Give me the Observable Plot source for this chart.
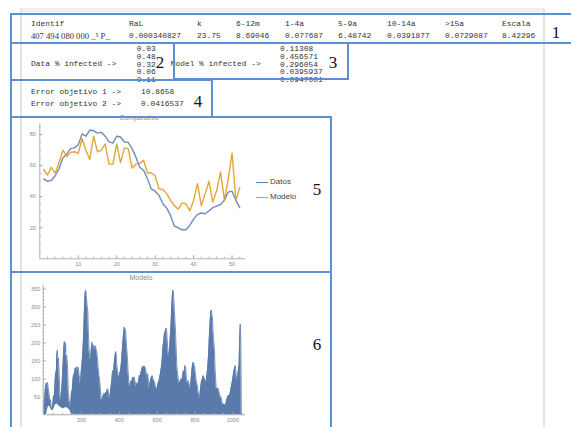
<!DOCTYPE html>
<html><head><meta charset="utf-8">
<script src="https://cdn.jsdelivr.net/npm/d3@7"></script>
<script src="https://cdn.jsdelivr.net/npm/@observablehq/plot@0.6"></script>
<style>
body{margin:0;background:#fff;}
#page{position:relative;width:571px;height:427px;overflow:hidden;background:#fff;}
.box{position:absolute;border:2px solid #5d8fd4;box-sizing:border-box;}
.t{position:absolute;white-space:pre;font-family:"Liberation Mono","DejaVu Sans Mono",monospace;font-size:7.9px;line-height:8px;color:#333;transform:translateY(-50%);}
.num{position:absolute;font-family:"Liberation Serif",serif;font-size:17px;line-height:17px;color:#111;transform:translate(-50%,-50%);}
.ttl{position:absolute;font-family:"Liberation Sans",Arial,sans-serif;font-size:7px;line-height:7px;color:#8a8a8a;transform:translate(-50%,-50%);white-space:pre;}
.leg{position:absolute;font-family:"Liberation Sans",Arial,sans-serif;font-size:8px;line-height:8px;color:#444;transform:translateY(-50%);}
.sw{position:absolute;height:1.6px;width:12px;}
.gray{position:absolute;background:#e2e2e2;}
svg.plot{position:absolute;}
</style></head>
<body><div id="page"></div>
<script>
// ---- data ----
const encabezados = ["Identif","RaL","k","6-12m","1-4a","5-9a","10-14a",">15a","Escala"];
const valores = ["407 494 080 000 _\u2075 P_","0.000340827","23.75","8.69046","0.077687","6.48742","0.0391877","0.0729087","8.42296"];
const etiquetaDatos = "Data % infected ->";
const datosInfectados = ["0.03","0.48","0.32","0.06","0.11"];
const etiquetaModelo = "Model % infected ->";
const modeloInfectados = ["0.11308","0.456571","0.296054","0.0395937","0.0947001"];
const errores = ["Error objetivo 1 ->","Error objetivo 2 ->"];
const erroresValores = ["10.8658","0.0416537"];
const numeros = ["1","2","3","4","5","6"];

const semanas = [1,2,3,4,5,6,7,8,9,10,11,12,13,14,15,16,17,18,19,20,21,22,23,24,25,26,27,28,29,30,31,32,33,34,35,36,37,38,39,40,41,42,43,44,45,46,47,48,49,50,51,52];
const datos = [51.5,50,50.5,53.5,58,65,67.5,71,71.5,73.5, 80.5,79,83,82.5,81,81.5,79,75.3,74.5,79, 78.5,75.3,75,71,65.5,59,57,51.6,45,43.6, 41,35.5,32.7,28,21,20,18.7,18.7,21.5,25.6, 28.6,29.5,29,31,33,34,35,37.6,43,43.6, 37.6,33];
const modelo = [57.5,54,59,55,62,70,66,68.5,69,68, 77.5,70,64,79,69,70,74,61,61,74, 62,71.5,71,58.5,61,61.5,63.5,55.3,55.3,53.5, 45,44.7,42,37.6,34.4,32,36,35.5,30.8,37.6, 48.4,34.2,42,50,36.6,44,56,38,51,68, 37.6,46];
const series = ["Datos","Modelo"];
const colores = ["#5E81B5","#E19C24"];
const ticksX5 = [10,20,30,40,50];
const menoresX5 = [2,4,6,8,12,14,16,18,22,24,26,28,32,34,36,38,42,44,46,48,52];
const ticksY5 = [20,40,60,80];
const menoresY5 = [5,10,15,25,30,35,45,50,55,65,70,75,85];

const modeloPuntos = [[0,30],[4,45],[8,70],[12,88],[16,84],[20,90],[24,72],[28,60],[32,36],[36,42],[40,20],[44,17],[48,28],[52,55],[56,48],[60,95],[63,120],[66,110],[69,165],[72,180],[75,150],[78,158],[81,120],[84,70],[87,45],[90,38],[93,60],[97,86],[100,120],[103,150],[106,185],[109,204],[112,175],[115,200],[118,160],[121,165],[124,150],[127,120],[130,60],[133,45],[137,30],[141,21],[144,40],[147,67],[150,60],[154,95],[158,114],[162,105],[166,130],[170,128],[174,134],[178,120],[182,132],[186,115],[190,100],[194,85],[198,120],[202,141],[206,170],[209,200],[212,240],[215,290],[218,335],[221,347],[224,340],[227,320],[230,300],[233,290],[236,230],[239,188],[243,160],[247,151],[251,180],[255,202],[258,185],[261,195],[264,190],[268,180],[272,192],[276,185],[280,175],[284,160],[288,130],[292,110],[296,95],[300,70],[304,45],[308,35],[312,50],[316,54],[320,60],[324,55],[328,63],[332,60],[336,72],[340,70],[344,55],[348,44],[352,60],[356,77],[360,95],[364,123],[368,110],[372,140],[376,160],[380,176],[383,170],[386,140],[390,123],[394,110],[398,100],[402,115],[406,123],[410,140],[414,170],[418,200],[422,225],[426,244],[430,240],[434,225],[438,190],[442,165],[446,120],[450,95],[454,77],[458,80],[462,95],[466,90],[470,105],[474,100],[478,105],[482,95],[486,85],[490,77],[494,90],[498,81],[502,95],[506,110],[510,105],[514,118],[518,125],[522,133],[526,135],[530,132],[534,135],[538,128],[542,118],[546,100],[550,114],[554,90],[558,72],[562,90],[566,100],[570,105],[574,109],[578,100],[582,95],[586,91],[590,80],[594,75],[598,68],[602,80],[606,90],[610,95],[614,105],[618,120],[622,132],[626,150],[630,188],[634,200],[638,225],[642,230],[646,242],[650,235],[654,200],[658,170],[661,165],[665,180],[669,216],[673,250],[676,290],[679,320],[682,347],[685,345],[688,320],[691,290],[694,262],[697,230],[700,190],[703,142],[707,120],[711,100],[715,86],[719,90],[723,95],[727,100],[731,95],[735,110],[739,123],[743,115],[747,137],[751,130],[755,100],[759,86],[763,95],[767,90],[771,80],[775,72],[779,95],[783,120],[787,140],[791,146],[795,140],[799,130],[803,110],[807,91],[811,85],[815,70],[819,55],[823,44],[827,60],[831,81],[835,95],[839,100],[843,109],[847,105],[851,100],[855,95],[859,90],[863,110],[867,130],[871,160],[875,210],[879,250],[883,285],[886,292],[889,280],[892,271],[895,240],[898,210],[902,188],[906,130],[910,90],[913,72],[917,70],[921,75],[925,68],[929,60],[933,49],[937,50],[941,40],[945,30],[949,28],[953,30],[957,27],[961,26],[965,35],[969,45],[973,49],[977,55],[981,52],[985,58],[989,70],[993,80],[997,91],[1001,105],[1005,120],[1009,130],[1013,137],[1017,115],[1021,91],[1025,105],[1029,123],[1033,140],[1036,200],[1039,253],[1042,220],[1044,100],[1045,0]];
const huecoInferior = [[14,0],[20,15],[26,25],[32,22],[38,16],[44,12],[50,12],[56,20],[62,28],[70,30],[78,26],[86,22],[92,20],[100,16],[110,18],[120,20],[130,17],[136,14],[141,10],[146,0]];
const ticksX6 = [200,400,600,800,1000];
const menoresX6 = [50,100,150,250,300,350,450,500,550,650,700,750,850,900,950,1050];
const ticksY6 = [50,100,150,200,250,300,350];
const menoresY6 = [10,20,30,40,60,70,80,90,110,120,130,140,160,170,180,190,210,220,230,240,260,270,280,290,310,320,330,340];

// ---- layout helpers ----
const page = document.getElementById("page");
function el(cls, x, y, txt, extra) {
  const d = document.createElement("div");
  d.className = cls; d.style.left = x + "px"; d.style.top = y + "px";
  if (txt !== undefined) d.textContent = txt;
  if (extra) Object.assign(d.style, extra);
  page.appendChild(d); return d;
}
// notebook chrome
el("gray", 20, 8, undefined, {width: "524px", height: "4px", background: "#efefef"});
el("gray", 20, 9, undefined, {width: "1.5px", height: "420px"});
el("gray", 543, 9, undefined, {width: "1.5px", height: "420px"});

// table 1
const colX = [31,129,197,236,285,338,387,445,502];
encabezados.forEach((h, i) => el("t", colX[i], 24.3, h));
valores.forEach((v, i) => el("t", colX[i], 35.9, v, i === 0 ? {fontFamily: "'Liberation Serif',serif", fontSize: "8.6px"} : undefined));
// box 2 / 3
el("t", 31, 64.3, etiquetaDatos);
datosInfectados.forEach((v, i) => el("t", 136.7, 49 + i * 7.8, v));
el("t", 170.7, 64.3, etiquetaModelo);
modeloInfectados.forEach((v, i) => el("t", 280, 49 + i * 7.8, v));
// box 4
errores.forEach((v, i) => el("t", 31, 92 + i * 12.3, v));
erroresValores.forEach((v, i) => el("t", 141, 92 + i * 12.3, v));

// ---- chart 5: Comparativo ----
const fs = {background: "transparent", fontFamily: "'Liberation Sans',Arial,sans-serif", fontSize: "5.5px", color: "#8a8a8a", overflow: "visible"};
const plain = d3.format("d");
const fig5 = Plot.plot({
  width: 250, height: 160,
  marginLeft: 39.3, marginRight: 5, marginTop: 13.3, marginBottom: 11.7,
  x: {domain: [0, 53.5]}, y: {domain: [0, 87]},
  style: fs,
  marks: [
    Plot.ruleY([0], {stroke: "#a8a8a8", strokeWidth: 0.9}),
    Plot.ruleX([0], {stroke: "#a8a8a8", strokeWidth: 0.9}),
    Plot.axisX({ticks: menoresX5, tickSize: 1.6, dy: -1.6, tickFormat: () => "", label: null, stroke: "#b0b0b0"}),
    Plot.axisX({ticks: ticksX5, tickSize: 3, dy: -3, tickFormat: () => "", label: null, stroke: "#a0a0a0"}),
    Plot.axisX({ticks: ticksX5, tickSize: 0, tickPadding: 3.5, tickFormat: plain, label: null, fill: "#8a8a8a"}),
    Plot.axisY({ticks: menoresY5, tickSize: 1.6, dx: 1.6, tickFormat: () => "", label: null, stroke: "#b0b0b0"}),
    Plot.axisY({ticks: ticksY5, tickSize: 3, dx: 3, tickFormat: () => "", label: null, stroke: "#a0a0a0"}),
    Plot.axisY({ticks: ticksY5, tickSize: 0, tickPadding: 4, tickFormat: plain, label: null, fill: "#8a8a8a"}),
    Plot.lineY(datos, {x: (d, i) => semanas[i], y: d => d, stroke: colores[0], strokeWidth: 1.4, strokeOpacity: 0.9}),
    Plot.lineY(modelo, {x: (d, i) => semanas[i], y: d => d, stroke: colores[1], strokeWidth: 1.4, strokeOpacity: 0.9})
  ]
});
fig5.classList.add("plot");
fig5.style.left = "0px"; fig5.style.top = "110px";
page.appendChild(fig5);
el("ttl", 139, 117.3, "Comparativo");
series.forEach((s, i) => {
  el("sw", 255.5, 181.5 + i * 15, undefined, {background: colores[i]});
  el("leg", 270, 182.3 + i * 15, s);
});

// ---- chart 6: Modelo ----
const fig6 = Plot.plot({
  width: 250, height: 157,
  marginLeft: 42.7, marginRight: 5, marginTop: 15, marginBottom: 12.7,
  x: {domain: [-3, 1067]}, y: {domain: [0, 360]},
  style: fs,
  marks: [
    Plot.areaY(modeloPuntos, {x: d => d[0], y: d => d[1], fill: "#5a7aab", curve: "linear"}),
    Plot.lineY(modeloPuntos, {x: d => d[0], y: d => d[1], stroke: "#5a7aab", strokeWidth: 0.8}),
    Plot.areaY(huecoInferior, {x: d => d[0], y: d => d[1], fill: "#ffffff", curve: "linear"}),
    Plot.ruleY([0], {stroke: "#a8a8a8", strokeWidth: 0.9}),
    Plot.ruleX([-3], {stroke: "#a8a8a8", strokeWidth: 0.9}),
    Plot.axisX({ticks: menoresX6, tickSize: 1.6, dy: -1.6, tickFormat: () => "", label: null, stroke: "#b0b0b0"}),
    Plot.axisX({ticks: ticksX6, tickSize: 3, dy: -3, tickFormat: () => "", label: null, stroke: "#a0a0a0"}),
    Plot.axisX({ticks: ticksX6, tickSize: 0, tickPadding: 3.5, tickFormat: plain, label: null, fill: "#8a8a8a"}),
    Plot.axisY({ticks: menoresY6, tickSize: 1.6, dx: 1.6, tickFormat: () => "", label: null, stroke: "#b0b0b0"}),
    Plot.axisY({ticks: ticksY6, tickSize: 3, dx: 3, tickFormat: () => "", label: null, stroke: "#a0a0a0"}),
    Plot.axisY({ticks: ticksY6, tickSize: 0, tickPadding: 3, tickFormat: plain, label: null, fill: "#8a8a8a"})
  ]
});
fig6.classList.add("plot");
fig6.style.left = "0px"; fig6.style.top = "270px";
page.appendChild(fig6);
el("ttl", 141, 276.7, "Modelo");

// ---- annotation boxes (drawn on top) ----
const cajas = [
  [9.7, 12.7, 570, 31],
  [9.7, 41.7, 165.3, 39.3],
  [173, 41.7, 175.7, 38.3],
  [9.7, 79, 203.3, 38.7],
  [9.7, 115.7, 322.3, 157.3],
  [9.7, 271, 322.3, 200]
];
cajas.forEach(([x, y, w, h]) => el("box", x, y, undefined, {width: w + "px", height: h + "px"}));
const numPos = [[556, 32], [160, 62], [333, 61.5], [198, 100.5], [317, 189], [317, 344]];
numeros.forEach((n, i) => el("num", numPos[i][0], numPos[i][1], n));
</script>
</body></html>
